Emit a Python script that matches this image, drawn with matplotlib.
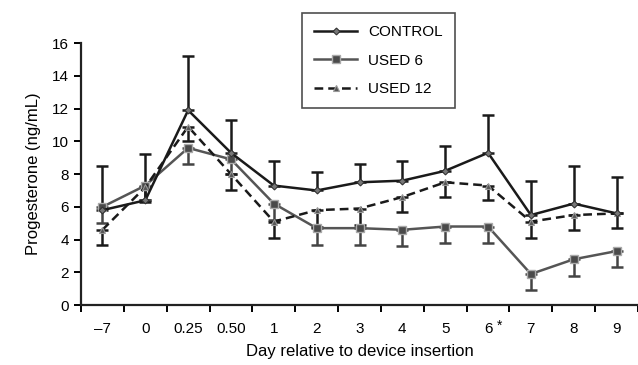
#!/usr/bin/env python3
"""Progesterone profile by treatment group."""
import matplotlib
matplotlib.use("Agg")
import matplotlib.pyplot as plt

plt.rcParams["font.family"] = ["Liberation Sans", "DejaVu Sans"]

# --- Data ---
days = ["\u20137", "0", "0.25", "0.50", "1", "2", "3", "4", "5", "6", "7", "8", "9"]

control = [5.8, 6.4, 11.9, 9.3, 7.3, 7.0, 7.5, 7.6, 8.2, 9.3, 5.5, 6.2, 5.6]
control_err = [2.7, 2.8, 3.3, 2.0, 1.5, 1.1, 1.1, 1.2, 1.5, 2.3, 2.1, 2.3, 2.2]

used6 = [6.0, 7.3, 9.6, 8.9, 6.2, 4.7, 4.7, 4.6, 4.8, 4.8, 1.9, 2.8, 3.3]
used6_err = [1.0, 0.9, 1.0, 0.9, 1.0, 1.0, 1.0, 1.0, 1.0, 1.0, 1.0, 1.0, 1.0]

used12 = [4.6, 7.2, 10.9, 8.0, 5.1, 5.8, 5.9, 6.6, 7.5, 7.3, 5.1, 5.5, 5.6]
used12_err = [0.95, 0.9, 0.9, 0.95, 1.0, 1.0, 1.0, 0.9, 0.9, 0.9, 1.0, 0.9, 0.9]

x = list(range(len(days)))

fig = plt.figure(figsize=(6.38, 3.65), dpi=100)
ax = fig.add_axes([0.127, 0.164, 0.873, 0.718])

# error bars (one-sided)
ax.errorbar(x, control, yerr=[[0] * len(x), control_err], fmt="none",
            ecolor="#1a1a1a", elinewidth=1.8, capsize=4, capthick=1.8, zorder=2)
ax.errorbar(x, used6, yerr=[used6_err, [0] * len(x)], fmt="none",
            ecolor="#444444", elinewidth=1.8, capsize=4, capthick=1.8, zorder=2)
ax.errorbar(x, used12, yerr=[used12_err, [0] * len(x)], fmt="none",
            ecolor="#1a1a1a", elinewidth=1.8, capsize=4, capthick=1.8, zorder=2)

ax.plot(x, control, color="#1a1a1a", lw=1.8, marker="D", ms=3.5,
        mfc="#777777", mec="#333333", mew=0.8, label="CONTROL", zorder=4)
ax.plot(x, used6, color="#555555", lw=1.8, marker="s", ms=6,
        mfc="#4a4a4a", mec="#aaaaaa", mew=1.0, label="USED 6", zorder=3)
ax.plot(x, used12, color="#1a1a1a", lw=1.8, ls=(0, (3.5, 2)), marker="^", ms=5,
        mfc="#555555", mec="#999999", mew=0.8, label="USED 12", zorder=3)

ax.set_ylim(0, 16)
ax.set_yticks(range(0, 17, 2))
ax.set_xlim(-0.5, 12.32)

# ticks between categories, labels at centres
ax.set_xticks([i - 0.5 for i in range(len(days) + 1)])
ax.set_xticklabels([])
ax.set_xticks(x, minor=True)
ax.set_xticklabels(days, minor=True)
ax.tick_params(axis="x", which="minor", length=0, pad=12, labelsize=11)
ax.tick_params(axis="x", which="major", length=5, width=1.4, direction="out")
ax.tick_params(axis="y", length=5, width=1.4, labelsize=11)
ax.text(9.2, -1.25, "*", fontsize=10, ha="left", va="center", clip_on=False)

for side in ("top", "right"):
    ax.spines[side].set_visible(False)
for side in ("left", "bottom"):
    ax.spines[side].set_linewidth(1.6)
    ax.spines[side].set_color("#222222")

ax.set_ylabel("Progesterone (ng/mL)", fontsize=12, labelpad=8)
ax.set_xlabel("Day relative to device insertion", fontsize=12, labelpad=6)

leg = ax.legend(loc="upper left", bbox_to_anchor=(0.397, 1.115), fontsize=11,
                frameon=True, fancybox=False, edgecolor="#222222",
                handlelength=2.8, handletextpad=0.7, borderpad=0.8,
                labelspacing=0.95, borderaxespad=0)
leg.get_frame().set_linewidth(1.2)

fig.savefig("out.png", dpi=100)
